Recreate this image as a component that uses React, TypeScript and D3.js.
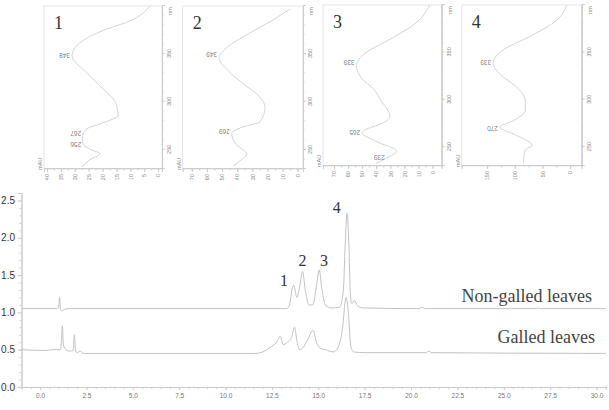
import React, { useEffect, useRef } from "react";
import * as d3 from "d3";

// chromatograms: [retention time (min), absorbance]
const nonGalled: [number, number][] = [
  [-1, 1.05], [0.9, 1.05], [1.0, 1.06], [1.05, 1.2], [1.1, 1.04], [1.16, 1.02], [1.3, 1.04], [1.5, 1.05],
  [13.3, 1.05], [13.45, 1.1], [13.6, 1.33], [13.68, 1.36], [13.85, 1.2], [14.0, 1.35], [14.15, 1.55],
  [14.3, 1.3], [14.5, 1.1], [14.7, 1.1], [14.9, 1.35], [15.05, 1.57], [15.2, 1.3], [15.4, 1.09],
  [15.7, 1.06], [16.15, 1.07], [16.35, 1.3], [16.45, 1.9], [16.55, 2.33], [16.65, 1.9], [16.72, 1.3],
  [16.8, 1.12], [16.95, 1.16], [17.1, 1.09], [17.4, 1.06], [20.45, 1.05], [20.6, 1.07], [20.75, 1.05],
  [26.75, 1.05], [26.85, 1.06], [26.95, 1.05], [30.5, 1.05],
];

const galled: [number, number][] = [
  [-1, 0.5], [0.3, 0.49], [0.6, 0.5], [1.1, 0.5], [1.15, 0.6], [1.2, 0.82], [1.26, 0.56], [1.4, 0.5],
  [1.6, 0.48], [1.78, 0.49], [1.85, 0.7], [1.92, 0.48], [2.0, 0.46], [2.15, 0.48], [2.35, 0.45],
  [11.6, 0.45], [12.0, 0.47], [12.4, 0.53], [12.75, 0.6], [12.95, 0.68], [13.1, 0.57], [13.35, 0.6],
  [13.55, 0.66], [13.72, 0.8], [13.85, 0.62], [14.0, 0.5], [14.15, 0.52], [14.4, 0.62], [14.72, 0.76],
  [14.9, 0.6], [15.1, 0.52], [15.4, 0.5], [15.8, 0.47], [16.05, 0.52], [16.3, 0.78], [16.5, 1.2],
  [16.62, 1.0], [16.75, 0.55], [16.9, 0.47], [17.5, 0.46], [20.8, 0.46], [20.95, 0.48], [21.1, 0.46],
  [30.5, 0.45],
];

const peakNames = ["1", "2", "3", "4"];
const peakLabelAt: [number, number][] = [[13.15, 1.35], [14.15, 1.62], [15.31, 1.62], [16.0, 2.33]];

const traceNames = ["Non-galled leaves", "Galled leaves"];
const traceLabelAt: [number, number][] = [[29.76, 1.14], [29.92, 0.59]];

const xTicks = [0, 2.5, 5, 7.5, 10, 12.5, 15, 17.5, 20, 22.5, 25, 27.5, 30];
const yTicks = [0, 0.5, 1, 1.5, 2, 2.5];

// UV spectra of peaks 1-4: [wavelength (nm), mAU]
const spectrum1: [number, number][] = [
  [232, 27.5], [239, 25], [246, 21], [250, 24], [256, 27], [262, 27.3], [267, 27], [273, 25], [278, 20],
  [286, 14.4], [300, 15.5], [314, 20], [331, 26], [348, 31], [362, 28], [373, 21], [386, 9], [400, 2.9],
];
const spectrum2: [number, number][] = [
  [233, 42.5], [240, 37], [245, 33.7], [257, 41.4], [267, 43.6], [274, 36], [279, 25], [294.5, 21.6],
  [305, 25], [319, 36], [332.5, 46], [346, 52], [356.5, 47], [370, 33.7], [385.8, 16], [397, 5],
];
const spectrum3: [number, number][] = [
  [233, 40], [238.5, 32.6], [245.5, 25.5], [256, 40], [265, 50], [268, 48], [275, 36], [282, 30.3],
  [301, 37.4], [311.5, 42], [322, 50], [336, 54], [350, 47], [364, 30], [382, 11], [400, 2],
];
const spectrum4: [number, number][] = [
  [233, 84], [237, 84], [247, 81], [252, 69], [263, 99], [271, 127], [278, 102], [289, 81], [299, 81],
  [313, 96], [327, 127], [339, 139], [353, 120], [367, 72], [384, 24], [400, 6],
];

const peaks1: [number, number][] = [[348, 31], [267, 27], [256, 27]];
const peaks2: [number, number][] = [[349, 52], [269, 43.6]];
const peaks3: [number, number][] = [[339, 54], [265, 50], [239, 32.6]];
const peaks4: [number, number][] = [[339, 139], [270, 127]];

const mauTicks1 = [0, 5, 10, 15, 20, 25, 30, 35, 40];
const mauTicks2 = [0, 10, 20, 30, 40, 50, 60, 70];
const mauTicks3 = [0, 10, 20, 30, 40, 50, 60, 70];
const mauTicks4 = [0, 50, 100, 150];
const nmTicks = [250, 300, 350];

const insets = [
  { name: "1", data: spectrum1, peaks: peaks1, ticks: mauTicks1, mau: [-1.4, 41.1], left: 44, right: 162, top: 6, bottom: 169 },
  { name: "2", data: spectrum2, peaks: peaks2, ticks: mauTicks2, mau: [-3.5, 76], left: 182.7, right: 303, top: 6, bottom: 169 },
  { name: "3", data: spectrum3, peaks: peaks3, ticks: mauTicks3, mau: [-6.5, 77.8], left: 323, right: 441.7, top: 5, bottom: 166 },
  { name: "4", data: spectrum4, peaks: peaks4, ticks: mauTicks4, mau: [-21, 196], left: 461.7, right: 581.7, top: 5, bottom: 166 },
];

const SANS = "Liberation Sans, Arial, sans-serif";
const SERIF = "Liberation Serif, Times New Roman, serif";

function styleAxis(g: any, lineColor: string, textColor: string, size: number) {
  g.select(".domain").attr("stroke", lineColor);
  g.selectAll(".tick line").attr("stroke", lineColor);
  g.selectAll(".tick text").attr("fill", textColor).style("font-size", size + "px").style("font-family", SANS);
}

function drawMain(svg: any) {
  const x = d3.scaleLinear().domain([-1, 30.5]).range([21.5, 605.8]);
  const y = d3.scaleLinear().domain([0, 2.6]).range([387, 193]);
  const g = svg.append("g");

  g.append("g")
    .attr("transform", `translate(0,${y(0)})`)
    .call(d3.axisBottom(x).tickValues(d3.range(-0.5, 30.6, 0.5)).tickSize(2).tickFormat(() => ""))
    .call((a: any) => styleAxis(a, "#ccc", "#666", 6.5));
  g.append("g")
    .attr("transform", `translate(0,${y(0)})`)
    .call(d3.axisBottom(x).tickValues(xTicks).tickSize(3).tickPadding(3).tickFormat(d3.format(".1f")))
    .call((a: any) => styleAxis(a, "#ccc", "#777", 6.5));

  g.append("g")
    .attr("transform", `translate(${x(-1)},0)`)
    .call(d3.axisLeft(y).tickValues(d3.range(0, 2.61, 0.1)).tickSize(2).tickFormat(() => ""))
    .call((a: any) => styleAxis(a, "#ccc", "#333", 10));
  g.append("g")
    .attr("transform", `translate(${x(-1)},0)`)
    .call(d3.axisLeft(y).tickValues(yTicks).tickSize(4).tickPadding(2.5).tickFormat(d3.format(".1f")))
    .call((a: any) => styleAxis(a, "#ccc", "#333", 10));

  const line = d3.line<[number, number]>().x((d) => x(d[0])).y((d) => y(d[1])).curve(d3.curveMonotoneX);
  [nonGalled, galled].forEach((s) => {
    g.append("path").attr("d", line(s)).attr("fill", "none").attr("stroke", "#c2c2c2").attr("stroke-width", 1);
  });

  g.selectAll(".peak")
    .data(peakNames)
    .enter()
    .append("text")
    .attr("x", (d: string, i: number) => x(peakLabelAt[i][0]))
    .attr("y", (d: string, i: number) => y(peakLabelAt[i][1]))
    .attr("text-anchor", "middle")
    .attr("fill", "#333")
    .style("font-family", SERIF)
    .style("font-size", "16px")
    .text((d: string) => d);

  g.selectAll(".trace")
    .data(traceNames)
    .enter()
    .append("text")
    .attr("x", (d: string, i: number) => x(traceLabelAt[i][0]))
    .attr("y", (d: string, i: number) => y(traceLabelAt[i][1]))
    .attr("text-anchor", "end")
    .attr("fill", "#444")
    .style("font-family", SERIF)
    .style("font-size", "18px")
    .text((d: string) => d);
}

function drawInset(svg: any, ins: any) {
  const W = ins.right - ins.left;
  const H = ins.bottom - ins.top;
  // the spectrum is drawn upright and then turned a quarter to the left
  const g = svg.append("g").attr("transform", `translate(${ins.left},${ins.bottom}) rotate(-90)`);
  const x = d3.scaleLinear().domain([230, 400]).range([0, H]);
  const y = d3.scaleLinear().domain(ins.mau).range([W, 0]);

  g.append("rect").attr("width", H).attr("height", W).attr("fill", "#fff").attr("stroke", "#ddd").attr("stroke-width", 0.8);

  g.append("g")
    .attr("transform", `translate(0,${W})`)
    .call(d3.axisBottom(x).tickValues(d3.range(240, 400, 10)).tickSize(1.5).tickFormat(() => ""))
    .call((a: any) => styleAxis(a, "#ccc", "#888", 5.5));
  g.append("g")
    .attr("transform", `translate(0,${W})`)
    .call(d3.axisBottom(x).tickValues(nmTicks).tickSize(3).tickPadding(2))
    .call((a: any) => styleAxis(a, "#ccc", "#888", 5.5));

  const step = ins.ticks[1] - ins.ticks[0];
  g.append("g")
    .call(d3.axisLeft(y).tickValues(d3.range(0, ins.ticks[ins.ticks.length - 1] + 0.1, step / 2)).tickSize(1.5).tickFormat(() => ""))
    .call((a: any) => styleAxis(a, "#ccc", "#888", 5.5));
  g.append("g")
    .call(d3.axisLeft(y).tickValues(ins.ticks).tickSize(3).tickPadding(2))
    .call((a: any) => styleAxis(a, "#ccc", "#888", 5.5));

  g.append("text")
    .attr("x", H - 5)
    .attr("y", W + 10)
    .attr("text-anchor", "middle")
    .attr("fill", "#888")
    .style("font-family", SANS)
    .style("font-size", "5.5px")
    .text("nm");
  g.append("text")
    .attr("x", -1)
    .attr("y", -2)
    .attr("fill", "#888")
    .style("font-family", SANS)
    .style("font-size", "5.5px")
    .text("mAU");

  const line = d3.line<[number, number]>().x((d) => x(d[0])).y((d) => y(d[1])).curve(d3.curveMonotoneX);
  g.append("path").attr("d", line(ins.data)).attr("fill", "none").attr("stroke", "#c8c8c8").attr("stroke-width", 0.8);

  g.selectAll(".pk")
    .data(ins.peaks)
    .enter()
    .append("text")
    .attr("transform", (d: [number, number]) => `translate(${x(d[0])},${y(d[1]) - 2}) rotate(-90)`)
    .attr("dominant-baseline", "central")
    .attr("fill", "#777")
    .attr("fill-opacity", 0.99)
    .style("font-family", SANS)
    .style("font-size", "6.5px")
    .text((d: [number, number]) => String(d[0]));

  svg.append("text")
    .attr("x", ins.left + 10)
    .attr("y", ins.top + 23)
    .attr("fill", "#333")
    .style("font-family", SERIF)
    .style("font-size", "18px")
    .text(ins.name);
}

export default function App() {
  const ref = useRef<SVGSVGElement>(null);

  useEffect(() => {
    const svg = d3.select(ref.current).html(null);
    drawMain(svg);
    insets.forEach((ins) => drawInset(svg, ins));
  }, []);

  return (
    <svg
      ref={ref}
      width={609}
      height={410}
      style={{ position: "absolute", left: 0, top: 0, background: "#fff" }}
    />
  );
}
